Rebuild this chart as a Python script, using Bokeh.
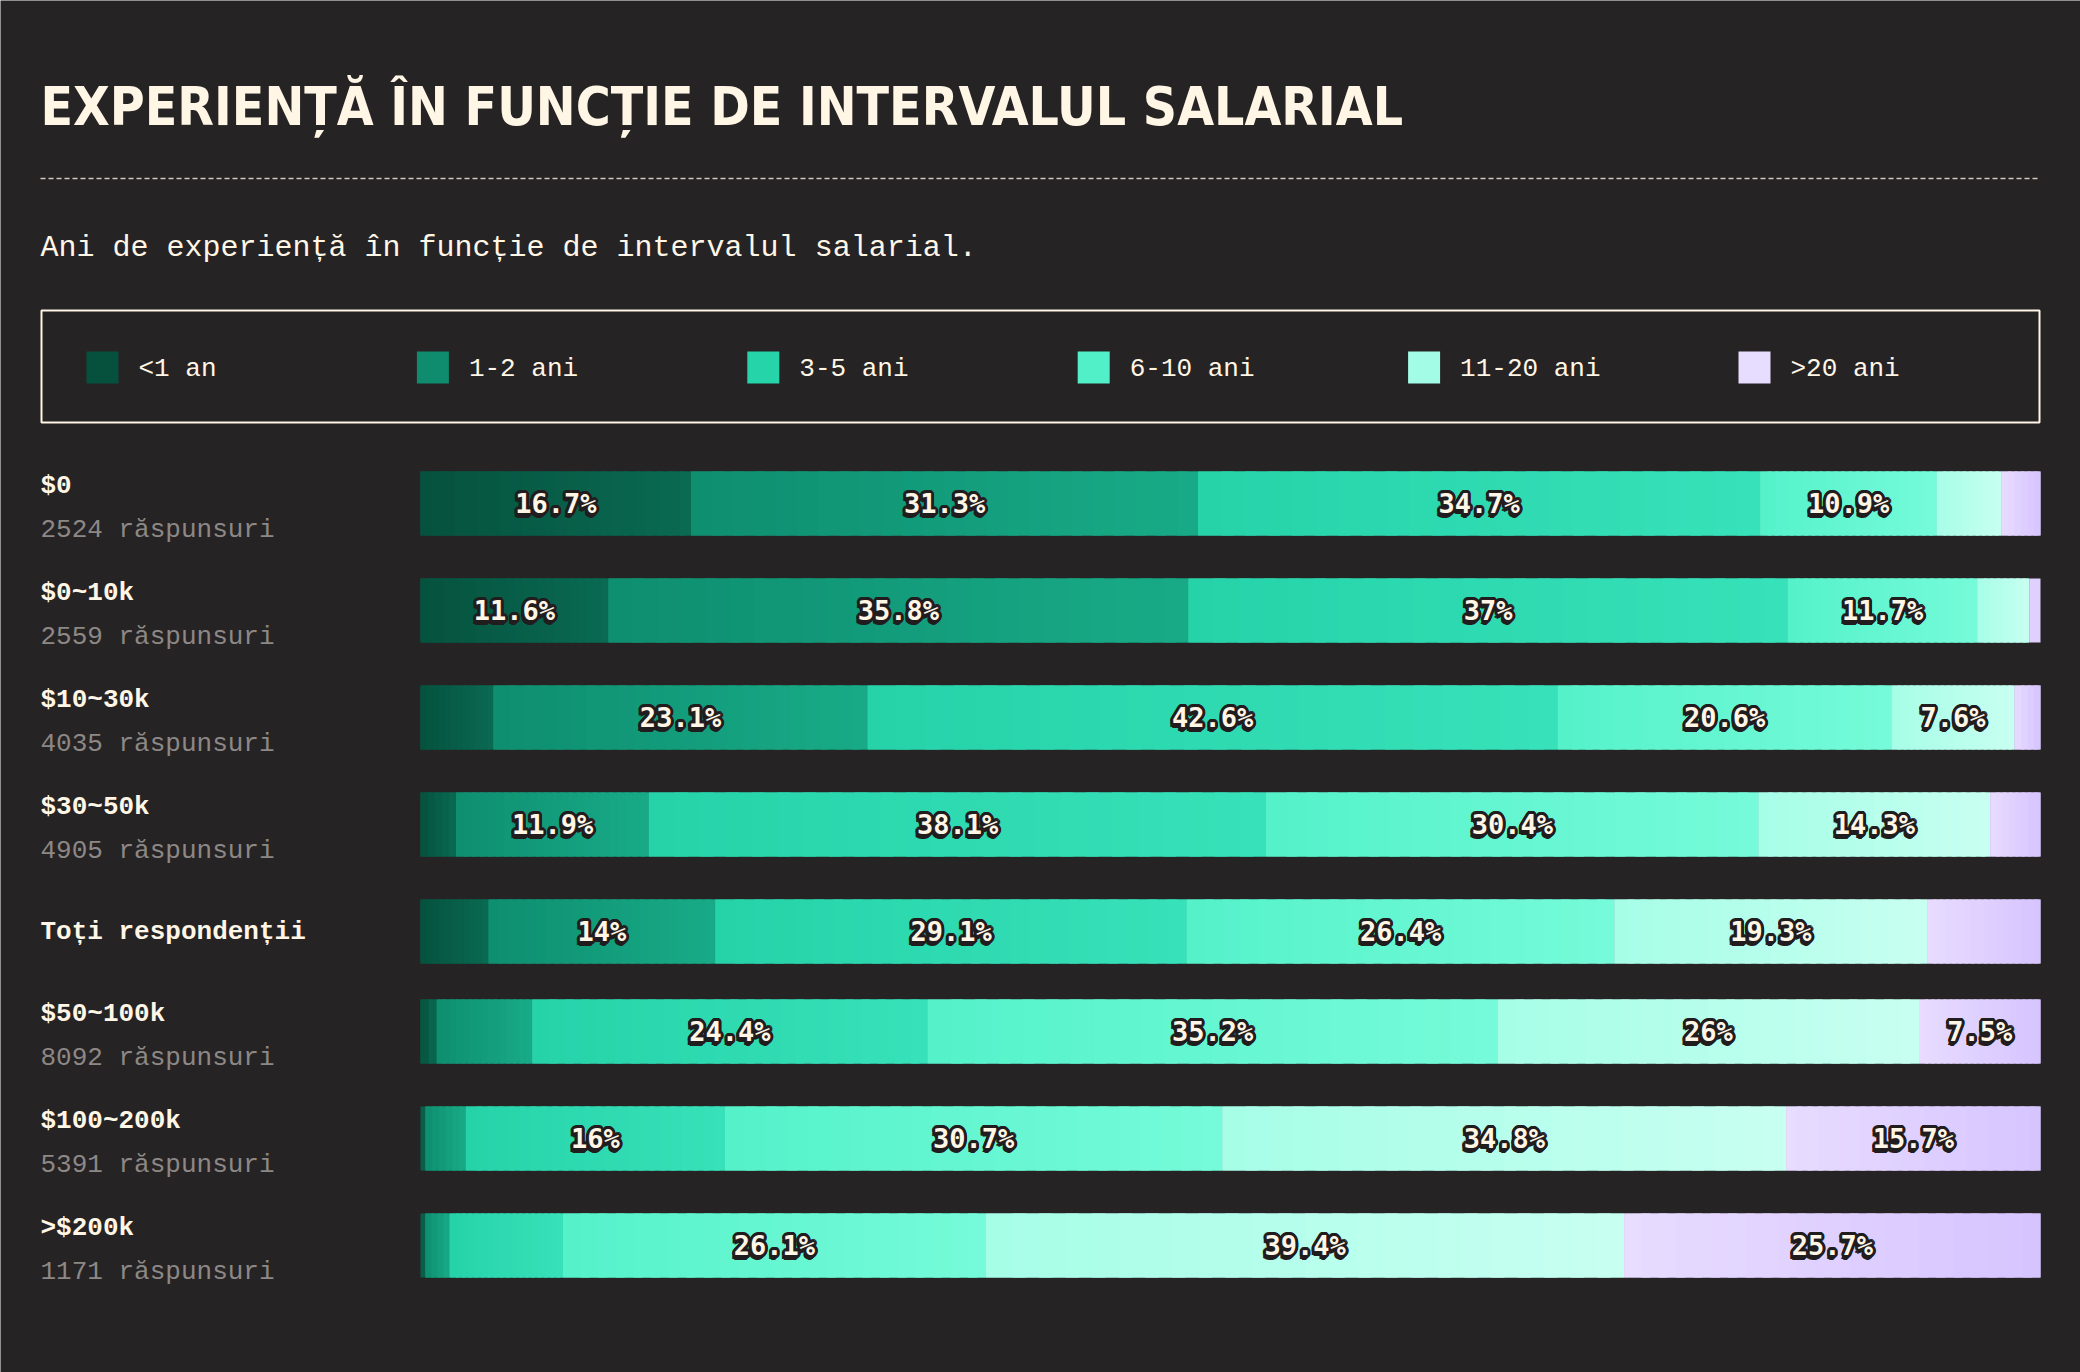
import numpy as np
from bokeh.plotting import figure
from bokeh.models import Range1d, ColumnDataSource
from bokeh.core.properties import value
from bokeh.embed import file_html
from bokeh.resources import INLINE

# ---------------- data ----------------
title = "EXPERIENȚĂ ÎN FUNCȚIE DE INTERVALUL SALARIAL"
subtitle = "Ani de experiență în funcție de intervalul salarial."
categories = ["<1 an", "1-2 ani", "3-5 ani", "6-10 ani", "11-20 ani", ">20 ani"]
salary_ranges = ["$0", "$0~10k", "$10~30k", "$30~50k", "Toți respondenții",
                 "$50~100k", "$100~200k", ">$200k"]
responses = [2524, 2559, 4035, 4905, None, 8092, 5391, 1171]

lt1 = [16.7, 11.6, 4.5, 2.2, 4.2, 1.0, 0.3, 0.3]
y1_2 = [31.3, 35.8, 23.1, 11.9, 14.0, 5.9, 2.5, 1.5]
y3_5 = [34.7, 37.0, 42.6, 38.1, 29.1, 24.4, 16.0, 7.0]
y6_10 = [10.9, 11.7, 20.6, 30.4, 26.4, 35.2, 30.7, 26.1]
y11_20 = [4.0, 3.2, 7.6, 14.3, 19.3, 26.0, 34.8, 39.4]
gt20 = [2.4, 0.7, 1.6, 3.1, 7.0, 7.5, 15.7, 25.7]
series = [lt1, y1_2, y3_5, y6_10, y11_20, gt20]

# ---------------- style ----------------
BG = "#262324"
CREAM = "#fff6e6"
GRAY = "#8d8886"
DARK = "#211d1e"
legend_colors = ["#06513d", "#0e8c6d", "#26d4a9", "#52f0c8", "#a3fde6", "#e7ddff"]
grad_left = ["#05523e", "#0e8e6f", "#26d3a9", "#54f2ca", "#a6fee7", "#e8dcff"]
grad_right = ["#0a6a52", "#18ab87", "#37e1b9", "#76fbd9", "#c8fff1", "#d6c4ff"]
MONO = "Liberation Mono"
LABEL_FONT = "DejaVu Sans Mono"
TITLE_FONT = "DejaVu Sans Condensed"

W, H = 2080, 1372
BAR_X0, BAR_X1 = 420, 2040
PX = (BAR_X1 - BAR_X0) / 100.0


def X(px):
    return (px - BAR_X0) / PX


p = figure(width=W, height=H, output_backend="svg", toolbar_location=None,
           x_range=Range1d(X(0), X(W)), y_range=Range1d(H, 0),
           min_border=0, x_axis_location=None, y_axis_location=None,
           background_fill_color=BG, border_fill_color=BG,
           outline_line_color=None)
p.grid.visible = False

# ---------------- title / subtitle ----------------
p.text(x=[X(40)], y=[106], text=[title], text_font=value(TITLE_FONT),
       text_font_style="bold", text_font_size="53px", text_color=CREAM,
       text_baseline="alphabetic", text_align="left")
p.segment(x0=[X(40)], y0=[178], x1=[X(2039)], y1=[178], line_color="#cfc8bd",
          line_width=1.5, line_dash="5 3")
p.text(x=[X(40)], y=[247], text=[subtitle], text_font=value(MONO),
       text_font_size="30px", text_color=CREAM, text_baseline="middle")

# ---------------- legend ----------------
p.quad(left=[X(41)], right=[X(2039)], top=[310], bottom=[422],
       fill_color=None, line_color=CREAM, line_width=2)
LEG_X0, LEG_STEP, SW = 86, 330.4, 32
for i, (cat, col) in enumerate(zip(categories, legend_colors)):
    sx = LEG_X0 + LEG_STEP * i
    p.quad(left=[X(sx)], right=[X(sx + SW)], top=[351], bottom=[383],
           fill_color=col, line_color=None)
    p.text(x=[X(sx + SW + 20)], y=[368], text=[cat], text_font=value(MONO),
           text_font_size="26px", text_color=CREAM, text_baseline="middle")

# ---------------- bars ----------------
ROW0, STEP, SHIFT, BAR_H = 503, 107, 7, 64
centers = [ROW0 + STEP * i - (SHIFT if i > 4 else 0) for i in range(len(salary_ranges))]


def hex2rgb(h):
    h = h.lstrip("#")
    return np.array([int(h[k:k + 2], 16) for k in (0, 2, 4)], dtype=float)


def rgb2hex(c):
    return "#%02x%02x%02x" % tuple(int(round(v)) for v in c)


ql, qr, qt, qb, qc = [], [], [], [], []
lab_x, lab_y, lab_t = [], [], []
for r, yc in enumerate(centers):
    vals = [s[r] for s in series]
    tot = sum(vals)
    cum = 0.0
    for c, v in enumerate(vals):
        v = v * 100.0 / tot
        left, right = cum, cum + v
        c0, c1 = hex2rgb(grad_left[c]), hex2rgb(grad_right[c])
        # base segment, then gradient slices (slice count depends on width)
        n = int(max(1, min(24, v * PX / 6)))
        ql.append(left); qr.append(right); qt.append(yc - BAR_H / 2); qb.append(yc + BAR_H / 2)
        qc.append(rgb2hex((c0 + c1) / 2))
        if n > 1:
            for k in range(n):
                a = left + v * k / n
                b = left + v * (k + 1) / n
                if k < n - 1:
                    b += v / n * 0.5
                col = c0 + (c1 - c0) * (k + 0.5) / n
                ql.append(a); qr.append(b); qt.append(yc - BAR_H / 2); qb.append(yc + BAR_H / 2)
                qc.append(rgb2hex(col))
        if series[c][r] >= 7.5:
            lab_x.append((left + right) / 2)
            lab_y.append(yc)
            lab_t.append(f"{series[c][r]:g}%")
        cum = right

p.quad(left=ql, right=qr, top=qt, bottom=qb, fill_color=qc, line_color=None)

# percentage labels with dark outline
lab_src = ColumnDataSource(dict(x=lab_x, y=lab_y, t=lab_t))
offsets = [(3 * np.cos(a), 3 * np.sin(a)) for a in np.linspace(0, 2 * np.pi, 16, endpoint=False)]
offsets += [(-2, 4), (-1, 4.5), (-3, 3.5), (0, 4)]
for dx, dy in offsets:
    p.text(x="x", y="y", text="t", source=lab_src, x_offset=float(dx), y_offset=float(dy),
           text_font=value(LABEL_FONT), text_font_style="bold", text_font_size="27px",
           text_color=DARK, text_align="center", text_baseline="middle")
p.text(x="x", y="y", text="t", source=lab_src,
       text_font=value(LABEL_FONT), text_font_style="bold", text_font_size="27px",
       text_color=CREAM, text_align="center", text_baseline="middle")

# row labels
for name, n, yc in zip(salary_ranges, responses, centers):
    if n is None:
        p.text(x=[X(40)], y=[yc], text=[name], text_font=value(MONO), text_font_style="bold",
               text_font_size="26px", text_color=CREAM, text_baseline="middle")
    else:
        p.text(x=[X(40)], y=[yc - 18], text=[name], text_font=value(MONO), text_font_style="bold",
               text_font_size="26px", text_color=CREAM, text_baseline="middle")
        p.text(x=[X(40)], y=[yc + 26], text=[f"{n} răspunsuri"], text_font=value(MONO),
               text_font_size="26px", text_color=GRAY, text_baseline="middle")

open("out.html", "w").write(file_html(p, INLINE))
